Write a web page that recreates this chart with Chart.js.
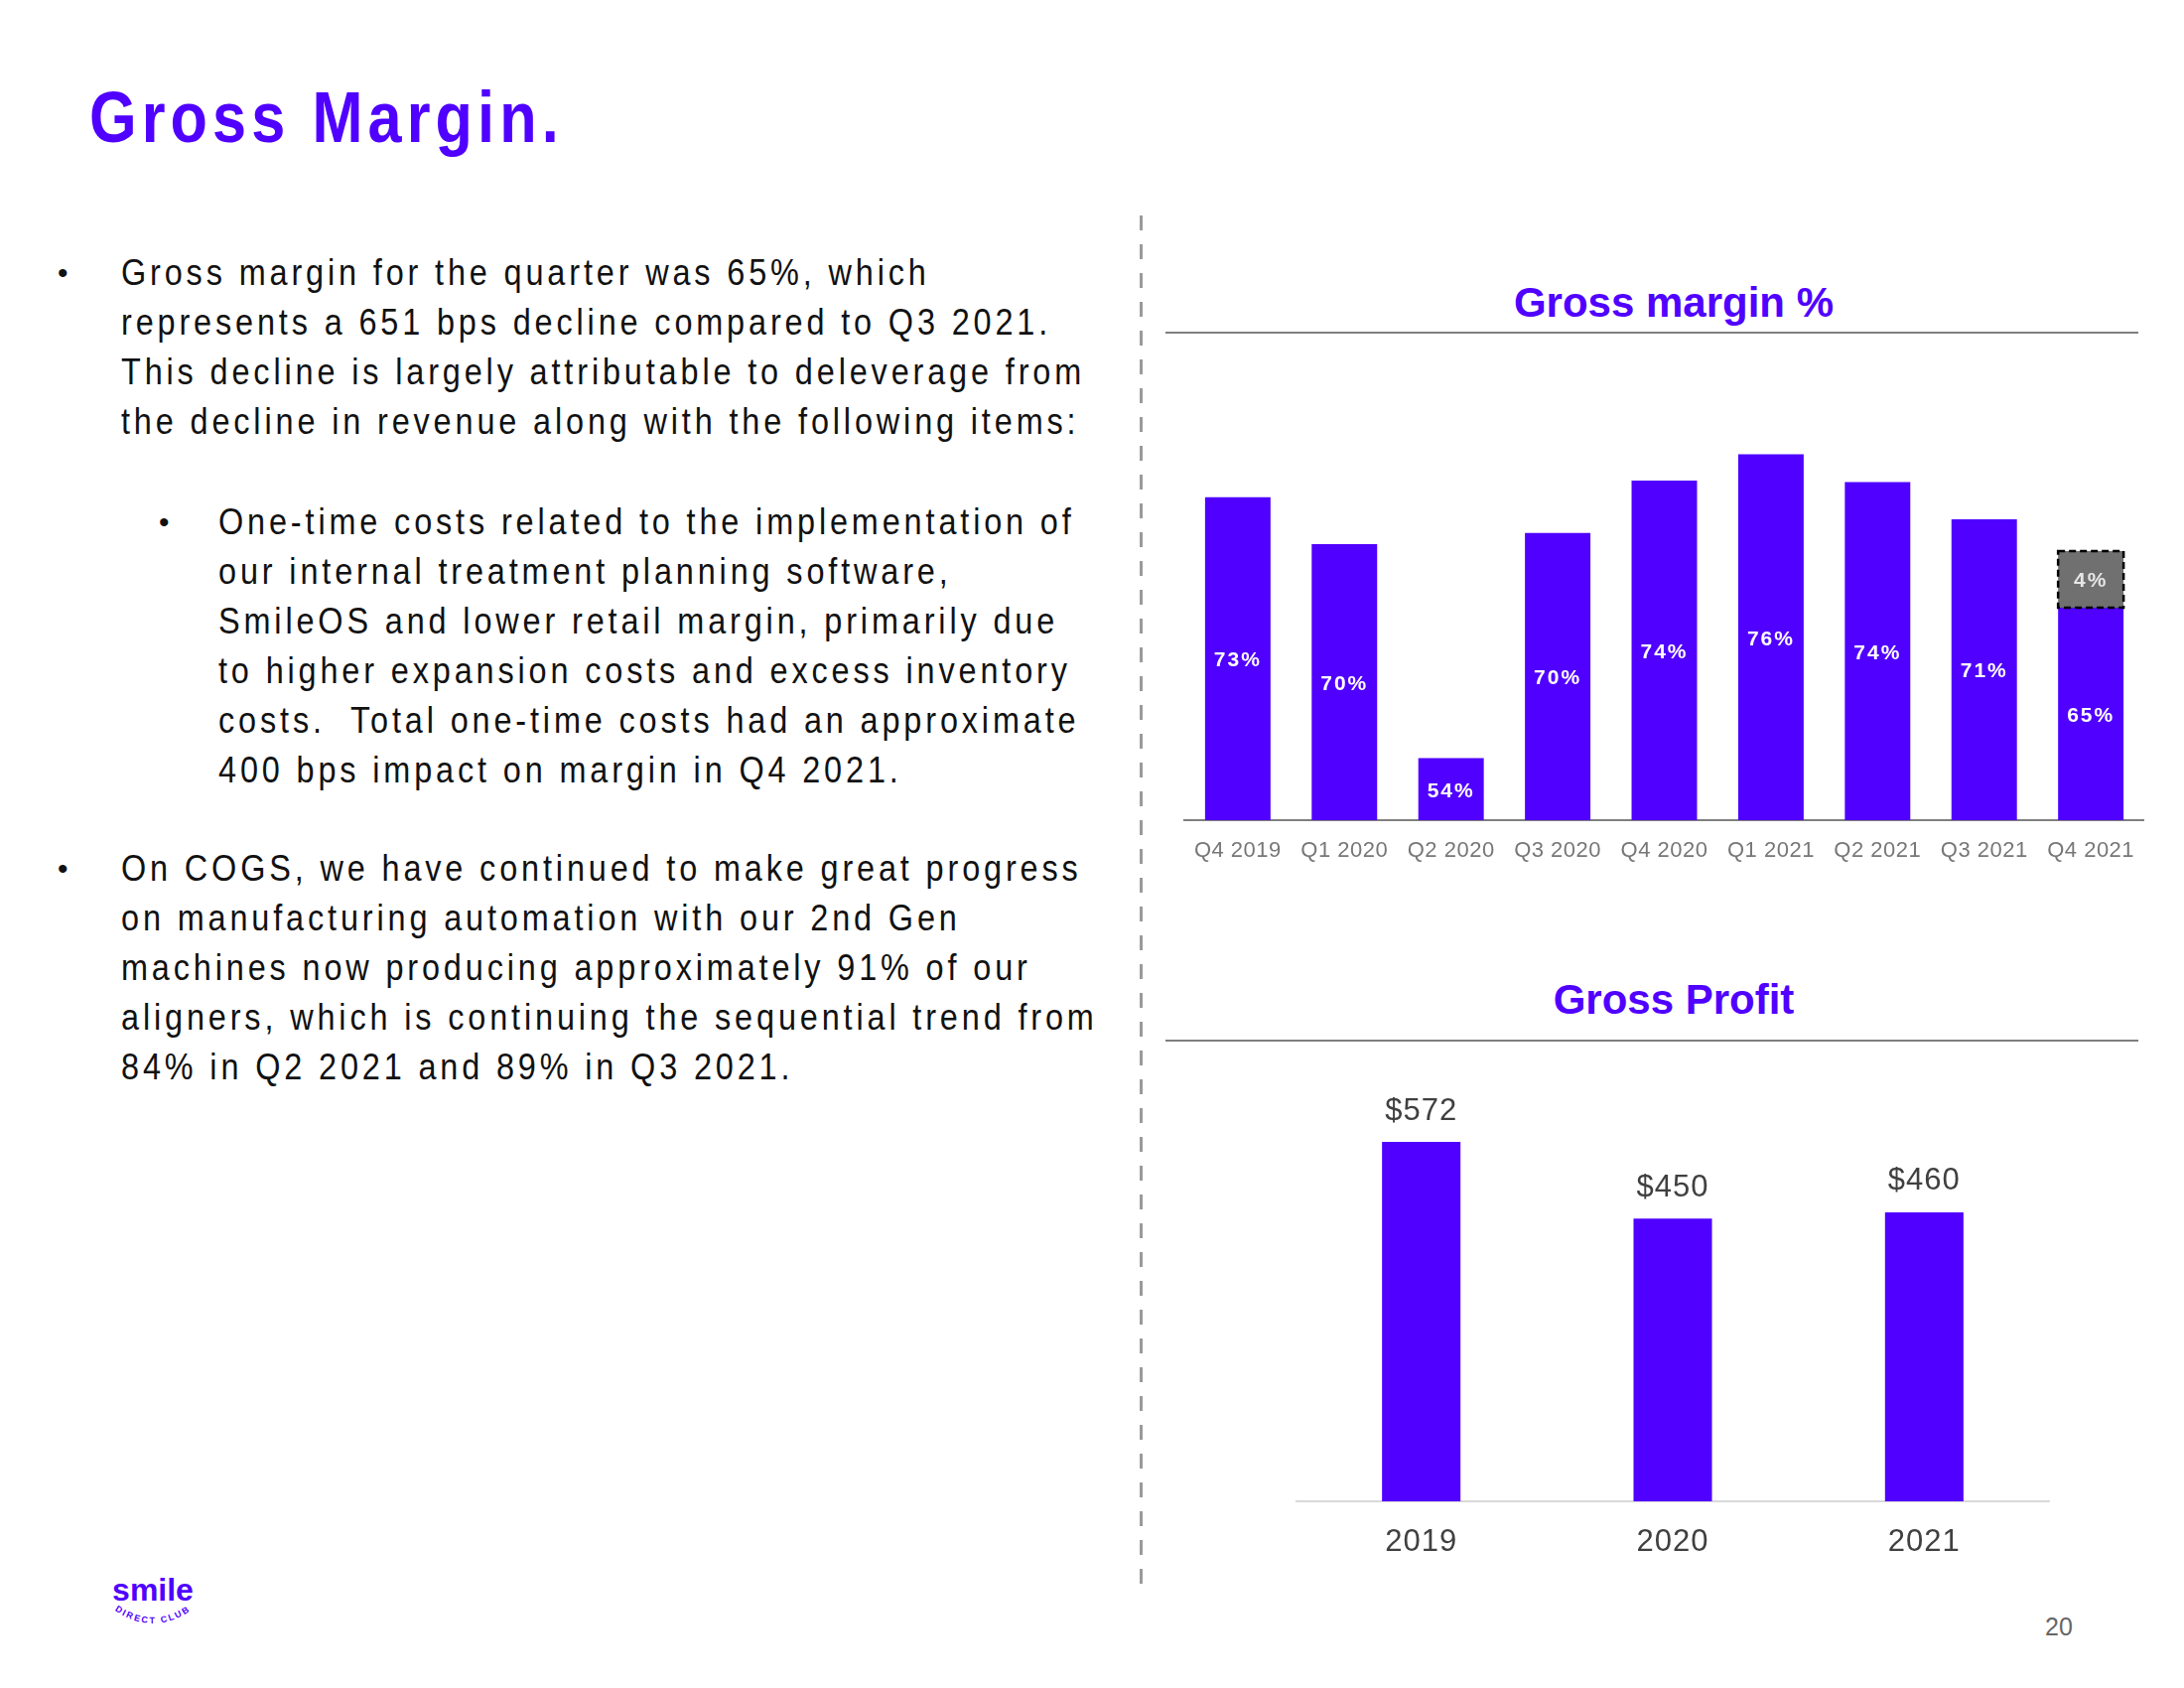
<!DOCTYPE html>
<html>
<head>
<meta charset="utf-8">
<script src="https://cdn.jsdelivr.net/npm/chart.js@4.4.0/dist/chart.umd.min.js"></script>
<style>
  html, body { margin:0; padding:0; background:#fff; }
  body { width:2200px; height:1700px; position:relative; overflow:hidden;
         font-family:"Liberation Sans",Arial,sans-serif; }
  .title { position:absolute; left:90px; top:78px; font-size:72px; font-weight:bold;
           color:#5000ff; letter-spacing:6px; line-height:80px; white-space:nowrap;
           transform:scaleX(0.85); transform-origin:left top; }
  .para { position:absolute; font-size:36px; line-height:50px; color:#111;
          letter-spacing:4.3px; white-space:nowrap;
          transform:scaleX(0.9); transform-origin:left top; }
  .dot { position:absolute; font-size:30px; line-height:50px; color:#111; }
  .vline { position:absolute; left:1148px; top:217px; width:3px; height:1390px;
           background:repeating-linear-gradient(to bottom, #9a9a9a 0 15px, transparent 15px 29px); }
  .ctitle { position:absolute; width:980px; left:1196px; text-align:center;
            font-size:42px; font-weight:bold; color:#5000ff; line-height:50px; }
  .hrule { position:absolute; left:1174px; width:980px; height:0; border-top:2px solid #7f7f7f; }
  .chartbox { position:absolute; }
  .pnum { position:absolute; left:2060px; top:1624px; font-size:25px; color:#666; }
  .logo { position:absolute; left:108px; top:1578px; width:92px; height:80px; }
</style>
</head>
<body>
<div class="title">Gross Margin.</div>

<div class="dot" style="left:58px;top:250px">•</div>
<div class="para" style="left:122px;top:250px">Gross margin for the quarter was 65%, which<br>represents a 651 bps decline compared to Q3 2021.<br>This decline is largely attributable to deleverage from<br>the decline in revenue along with the following items:</div>

<div class="dot" style="left:160px;top:501px">•</div>
<div class="para" style="left:220px;top:501px">One-time costs related to the implementation of<br>our internal treatment planning software,<br>SmileOS and lower retail margin, primarily due<br>to higher expansion costs and excess inventory<br>costs.&nbsp; Total one-time costs had an approximate<br>400 bps impact on margin in Q4 2021.</div>

<div class="dot" style="left:58px;top:850px">•</div>
<div class="para" style="left:122px;top:850px">On COGS, we have continued to make great progress<br>on manufacturing automation with our 2nd Gen<br>machines now producing approximately 91% of our<br>aligners, which is continuing the sequential trend from<br>84% in Q2 2021 and 89% in Q3 2021.</div>

<div class="vline"></div>

<div class="ctitle" style="top:280px">Gross margin %</div>
<div class="hrule" style="top:334px"></div>
<div class="chartbox" style="left:1187px;top:402px;width:979px;height:484px"><canvas id="marginChart"></canvas></div>

<div class="ctitle" style="top:982px">Gross Profit</div>
<div class="hrule" style="top:1047px"></div>
<div class="chartbox" style="left:1305px;top:1069px;width:760px;height:523px"><canvas id="profitChart"></canvas></div>

<svg class="logo" viewBox="0 0 92 80">
  <text x="46" y="34" text-anchor="middle" font-family="Liberation Sans, Arial" font-weight="bold" font-size="32" fill="#5000ff">smile</text>
  <path id="arc" d="M8,44 Q46,70 84,44" fill="none"/>
  <text font-family="Liberation Sans, Arial" font-weight="bold" font-size="9" fill="#5000ff" letter-spacing="2">
    <textPath href="#arc" startOffset="50%" text-anchor="middle">DIRECT CLUB</textPath>
  </text>
</svg>

<div class="pnum">20</div>

<script>
// quarterly gross margin (%)
const quarters = ['Q4 2019','Q1 2020','Q2 2020','Q3 2020','Q4 2020','Q1 2021','Q2 2021','Q3 2021','Q4 2021'];
const marginPct = [72.9, 69.5, 54.0, 70.3, 74.1, 76.0, 74.0, 71.3, 64.9];
const oneTimePct = [null, null, null, null, null, null, null, null, 4.1];

// annual gross profit ($M)
const years = ['2019','2020','2021'];
const grossProfit = [572, 450, 460];

const PURPLE = '#5000ff';
const FONT = '"Liberation Sans",Arial,sans-serif';

const spacing = {
    id:'spacing',
    beforeDraw(chart){ chart.ctx.letterSpacing = chart.options.plugins.spacing.px + 'px'; }
};

const insideLabels = {
    id:'insideLabels',
    afterDatasetsDraw(chart){
        const ctx = chart.ctx;
        const bottom = chart.chartArea.bottom;
        ctx.save();
        ctx.font = 'bold 21px ' + FONT;
        ctx.letterSpacing = '2px';
        ctx.textAlign = 'center';
        ctx.textBaseline = 'middle';
        chart.data.datasets.forEach((ds, di) => {
            const meta = chart.getDatasetMeta(di);
            meta.data.forEach((bar, i) => {
                const v = ds.data[i];
                if(v == null) return;
                const base = Math.min(bar.base, bottom);
                if(di == 1){
                    // dashed outline round the one-time cost segment
                    ctx.setLineDash([7,4]);
                    ctx.lineWidth = 2.5;
                    ctx.strokeStyle = '#000';
                    ctx.strokeRect(bar.x - bar.width/2, bar.y, bar.width, base - bar.y);
                    ctx.setLineDash([]);
                    ctx.fillStyle = '#e6e6e6';
                } else {
                    ctx.fillStyle = '#fff';
                }
                ctx.fillText(Math.round(v) + '%', bar.x, (bar.y + base)/2 + 2);
            });
        });
        ctx.restore();
    }
};

const topLabels = {
    id:'topLabels',
    afterDatasetsDraw(chart){
        const ctx = chart.ctx;
        ctx.save();
        ctx.font = '31px ' + FONT;
        ctx.letterSpacing = '1px';
        ctx.fillStyle = '#404040';
        ctx.textAlign = 'center';
        ctx.textBaseline = 'middle';
        const meta = chart.getDatasetMeta(0);
        meta.data.forEach((bar, i) => {
            ctx.fillText('$' + grossProfit[i], bar.x, bar.y - 31);
        });
        ctx.restore();
    }
};

new Chart(document.getElementById('marginChart').getContext('2d'), {
    type:'bar',
    data:{
        labels:quarters,
        datasets:[{
            data:marginPct,
            backgroundColor:PURPLE,
            categoryPercentage:1,
            barPercentage:0.614,
        },{
            data:oneTimePct,
            backgroundColor:'#707070',
            categoryPercentage:1,
            barPercentage:0.614,
        }]
    },
    options:{
        responsive:true,
        maintainAspectRatio:false,
        animation:false,
        layout:{padding:0},
        plugins:{legend:{display:false}, tooltip:{enabled:false}, spacing:{px:0.5}},
        scales:{
            x:{
                stacked:true,
                grid:{display:false, drawTicks:false},
                border:{display:true, color:'#7f7f7f', width:2},
                ticks:{color:'#777', font:{family:FONT, size:22}, padding:18, maxRotation:0, autoSkip:false},
                afterFit(scale){ scale.height = 60; }
            },
            y:{
                stacked:true,
                display:false,
                min:49.5,
                max:80,
            }
        }
    },
    plugins:[spacing, insideLabels]
});

new Chart(document.getElementById('profitChart').getContext('2d'), {
    type:'bar',
    data:{
        labels:years,
        datasets:[{
            data:grossProfit,
            backgroundColor:PURPLE,
            categoryPercentage:1,
            barPercentage:0.312,
        }]
    },
    options:{
        responsive:true,
        maintainAspectRatio:false,
        animation:false,
        layout:{padding:0},
        plugins:{legend:{display:false}, tooltip:{enabled:false}, spacing:{px:1}},
        scales:{
            x:{
                grid:{display:false, drawTicks:false},
                border:{display:true, color:'#d9d9d9', width:2},
                ticks:{color:'#404040', font:{family:FONT, size:31}, padding:23},
                afterFit(scale){ scale.height = 80; }
            },
            y:{
                display:false,
                min:0,
                max:700,
            }
        }
    },
    plugins:[spacing, topLabels]
});
</script>
</body>
</html>
